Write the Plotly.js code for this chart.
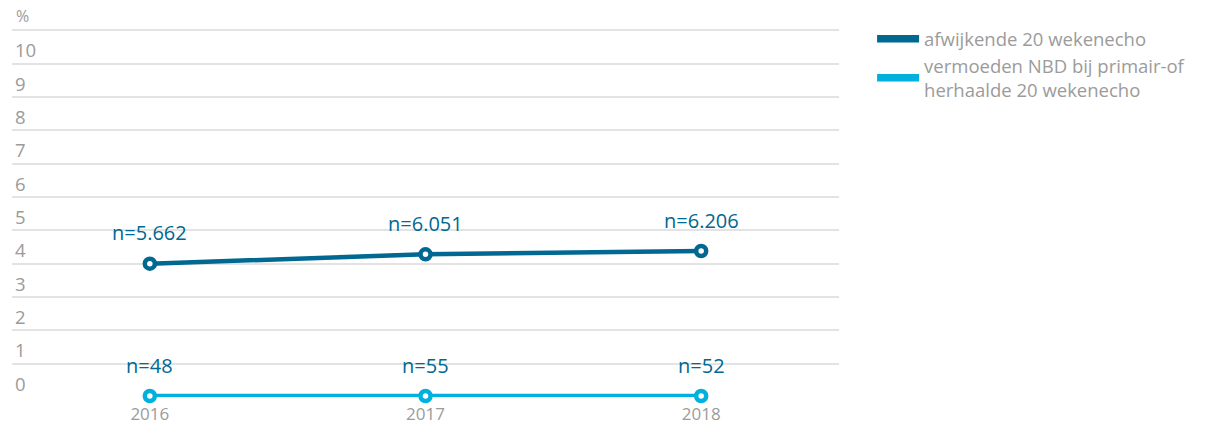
<!DOCTYPE html>
<html>
<head>
<meta charset="utf-8">
<script src="https://cdn.plot.ly/plotly-3.0.1.min.js"></script>
<style>html,body{margin:0;padding:0;background:#fff;}#chart{width:1205px;height:425px;}</style>
</head>
<body>
<div id="chart"></div>
<script>
const years = ["2016", "2017", "2018"];
const afwijkende = [4.0, 4.28, 4.38];
const vermoeden = [0.03, 0.03, 0.03];
const afwijkendeN = ["n=5.662", "n=6.051", "n=6.206"];
const vermoedenN = ["n=48", "n=55", "n=52"];
const seriesNames = ["afwijkende 20 wekenecho", "vermoeden NBD bij primair-of<br>herhaalde 20 wekenecho"];
const yTickVals = [0,1,2,3,4,5,6,7,8,9,10,11];
const yTickText = ["0","1","2","3","4","5","6","7","8","9","10",""];
const yUnit = "%";
const yUnitPos = 11;

const darkBlue = "#006891";
const lightBlue = "#00b1dd";
const grey = "#9b9b9b";
const fontFam = "'Open Sans', 'Noto Sans', sans-serif";

function lineTrace(y, color) {
  return {
    x: years, y: y, type: "scatter", mode: "lines+markers",
    line: {color: color, width: 4.5},
    marker: {size: 10, color: "#ffffff", line: {color: color, width: 4.5}},
    showlegend: false, cliponaxis: false, hoverinfo: "skip"
  };
}
function legendTrace(name, color) {
  return {
    x: [null], y: [null], type: "scatter", mode: "lines",
    name: name, line: {color: color, width: 7.5}, showlegend: true
  };
}

const data = [
  lineTrace(afwijkende, darkBlue),
  lineTrace(vermoeden, lightBlue),
  legendTrace(seriesNames[0], darkBlue),
  legendTrace(seriesNames[1], lightBlue)
];

const annotations = [];
function addLabels(vals, labels) {
  vals.forEach((v, i) => {
    annotations.push({
      x: i, y: v, xref: "x", yref: "y", text: labels[i],
      showarrow: false, yshift: 31,
      font: {family: fontFam, size: 20, color: darkBlue}
    });
  });
}
addLabels(afwijkende, afwijkendeN);
addLabels(vermoeden, vermoedenN);
annotations.push({
  x: 0, y: yUnitPos, xref: "paper", yref: "y", text: yUnit,
  xanchor: "left", yanchor: "bottom", xshift: 2, yshift: 1, showarrow: false,
  font: {family: fontFam, size: 16, color: grey}
});

const layout = {
  width: 1205, height: 425,
  margin: {l: 12, r: 366, t: 7, b: 28},
  paper_bgcolor: "#ffffff", plot_bgcolor: "#ffffff",
  font: {family: fontFam, color: grey, size: 17},
  xaxis: {
    type: "category", range: [-0.5, 2.5], showgrid: false, zeroline: false,
    showline: false, ticks: "", tickfont: {size: 17, color: grey}, fixedrange: true,
    ticklabelstandoff: 5
  },
  yaxis: {
    range: [0, 11.7], tickvals: yTickVals, ticktext: yTickText,
    ticklabelposition: "inside top", showgrid: true, gridcolor: "#e3e3e3", gridwidth: 2,
    zeroline: false, showline: false, ticks: "",
    tickfont: {size: 18.5, color: grey}, fixedrange: true
  },
  legend: {
    x: 1.04, y: 0.966, xanchor: "left", yanchor: "top", itemwidth: 42,
    font: {size: 18.5, color: grey, family: fontFam},
    bgcolor: "rgba(0,0,0,0)", tracegroupgap: 0
  },
  annotations: annotations,
  showlegend: true
};

Plotly.newPlot("chart", data, layout, {displayModeBar: false, staticPlot: true});
</script>
</body>
</html>
